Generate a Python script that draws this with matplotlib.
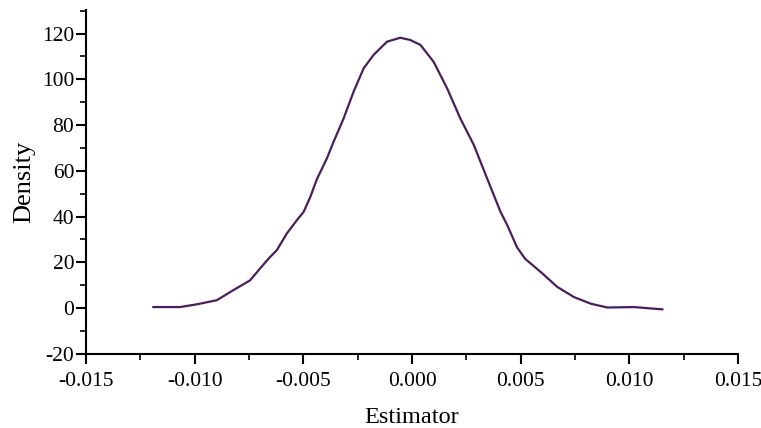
import matplotlib
matplotlib.use("Agg")
import matplotlib.pyplot as plt
from matplotlib.ticker import MultipleLocator

estimator = [-0.01190, -0.01067, -0.00990, -0.00898, -0.00822, -0.00745, -0.00699, -0.00660,
             -0.00622, -0.00576, -0.00530, -0.00499, -0.00468, -0.00438, -0.00392, -0.00361,
             -0.00315, -0.00269, -0.00223, -0.00177, -0.00115, -0.00054, -0.00008, 0.00038,
             0.00099, 0.00161, 0.00222, 0.00284, 0.00345, 0.00407, 0.00438, 0.00483, 0.00520,
             0.00591, 0.00668, 0.00744, 0.00821, 0.00898, 0.01021, 0.01151]
density = [0.4, 0.4, 1.6, 3.4, 7.8, 12.1, 17.3, 21.6,
           25.3, 32.6, 38.4, 42.0, 48.6, 56.3, 65.4, 72.7,
           82.9, 94.6, 104.8, 110.7, 116.5, 118.2, 117.2, 115.1,
           107.7, 96.1, 82.9, 71.3, 56.7, 42.0, 36.2, 26.5, 21.5,
           15.8, 9.2, 4.8, 1.9, 0.2, 0.4, -0.6]

xtick_vals = [-0.015, -0.010, -0.005, 0.0, 0.005, 0.010, 0.015]
xtick_labels = ['-0.015', '-0.010', '-0.005', '0.000', '0.005', '0.010', '0.015']
ytick_vals = [-20, 0, 20, 40, 60, 80, 100, 120]
ytick_labels = ['-20', '0', '20', '40', '60', '80', '100', '120']

plt.rcParams['font.family'] = ['Liberation Serif', 'DejaVu Serif']
fig = plt.figure(figsize=(7.61, 4.28), dpi=100)
ax = fig.add_axes([0.113, 0.1736, 0.857, 0.8034])
ax.plot(estimator, density, color='#4a1d5c', lw=1.6, solid_joinstyle='round')
ax.set_xlim(-0.015, 0.015)
ax.set_ylim(-20, 130.4)
ax.set_xticks(xtick_vals)
ax.set_xticklabels(xtick_labels)
ax.set_yticks(ytick_vals)
ax.set_yticklabels(ytick_labels)
ax.xaxis.set_minor_locator(MultipleLocator(0.0025))
ax.yaxis.set_minor_locator(MultipleLocator(10))
for s in ['top', 'right']:
    ax.spines[s].set_visible(False)
for s in ['left', 'bottom']:
    ax.spines[s].set_linewidth(1.5)
ax.tick_params(which='major', direction='out', length=7, width=1.5, labelsize=15.5,
               colors='black')
ax.tick_params(axis='x', which='major', pad=6)
ax.tick_params(axis='y', which='major', pad=1.5)
ax.tick_params(which='minor', direction='out', length=4, width=1.2)
ax.set_xlabel('Estimator', fontsize=17.5, labelpad=12)
ax.set_ylabel('Density', fontsize=19, labelpad=5)
fig.savefig('out.png', dpi=100)
